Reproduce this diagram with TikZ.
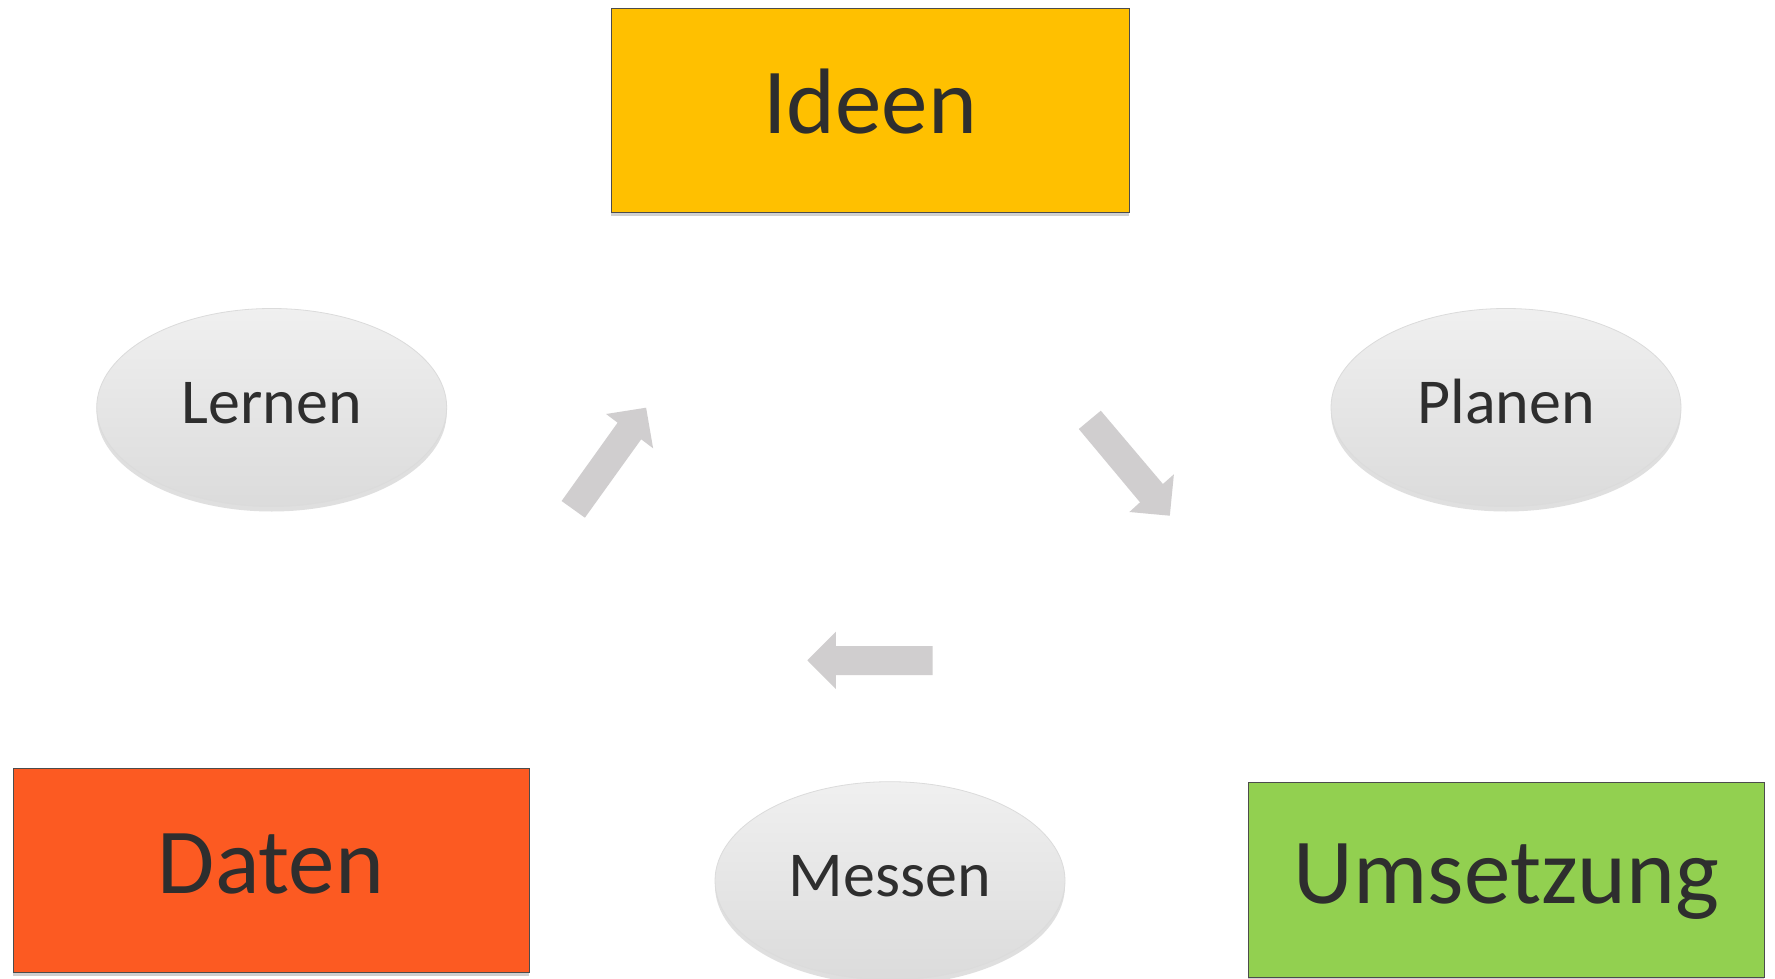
\documentclass[tikz,border=0pt]{standalone}
\usepackage{fontspec}
\setmainfont{Carlito}
\usetikzlibrary{shapes.geometric,shadows}
\definecolor{ideenc}{HTML}{FFC000}
\definecolor{datenc}{HTML}{FC5A22}
\definecolor{umsc}{HTML}{92D050}
\definecolor{txtc}{HTML}{2E2E2E}
\definecolor{arrc}{HTML}{D0CECF}
\tikzset{
 bigbox/.style={rectangle, draw=black!70, line width=0.8pt, inner sep=0pt, text=txtc,
   font=\fontsize{93}{100}\selectfont, text height=57.7pt, text depth=11.2pt,
   drop shadow={shadow xshift=0pt, shadow yshift=-4pt, opacity=0.3, fill=black!60}},
 oval/.style={ellipse, draw=black!14, line width=0.8pt, top color=black!6, bottom color=black!14,
   minimum width=350pt, minimum height=198pt, inner sep=0pt, text=txtc,
   font=\fontsize{64}{70}\selectfont, text height=39.7pt, text depth=7.7pt,
   drop shadow={shadow xshift=0pt, shadow yshift=-5pt, opacity=0.25, fill=black!50}},
 blockarrow/.style={fill=arrc}
}
\begin{document}
\begin{tikzpicture}[x=1pt,y=-1pt]
\useasboundingbox[fill=white] (0,0) rectangle (1775,979);
% boxes
\node[bigbox, fill=ideenc, minimum width=518pt, minimum height=204pt] (ideen) at (870,110) {Ideen};
\node[bigbox, fill=datenc, minimum width=516pt, minimum height=204pt] (daten) at (271,870.3) {Daten};
\node[bigbox, fill=umsc, minimum width=516pt, minimum height=195pt] (umsetzung) at (1506.3,879.8) {Umsetzung};
% ellipses
\node[oval] (lernen) at (271.7,407.5) {Lernen};
\node[oval] (planen) at (1506,407.5) {Planen};
\node[oval] (messen) at (890,880.7) {Messen};
% block arrows
\fill[blockarrow] (561.6,501) -- (617.6,422.7) -- (606.1,414) -- (646.1,407.7) -- (653.1,448.3) -- (641.2,439.3) -- (584.9,517.7) -- cycle;
\fill[blockarrow] (1100.8,410.7) -- (1162.9,484) -- (1173.9,474.3) -- (1169.8,515.7) -- (1129.4,512) -- (1140,502.3) -- (1078.8,429) -- cycle;
\fill[blockarrow] (932.7,646) -- (835.9,646) -- (835.9,631.7) -- (807.3,660.3) -- (835.9,689) -- (835.9,675) -- (932.7,675) -- cycle;
\end{tikzpicture}
\end{document}
